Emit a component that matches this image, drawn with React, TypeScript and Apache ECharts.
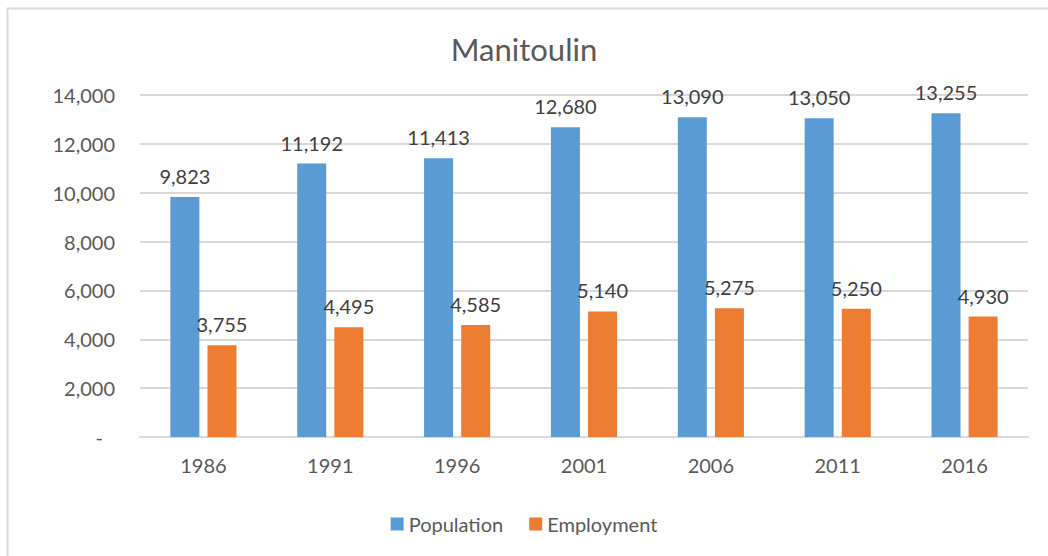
import React, { useEffect, useRef } from "react";
import * as echarts from "echarts";

const title = "Manitoulin";
const categories = ["1986", "1991", "1996", "2001", "2006", "2011", "2016"];
const population = [9823, 11192, 11413, 12680, 13090, 13050, 13255];
const employment = [3755, 4495, 4585, 5140, 5275, 5250, 4930];
const seriesNames = ["Population", "Employment"];

const FONT = "Lato";
const fmt = (v: number) => v.toLocaleString("en-US");

export default function App() {
  const ref = useRef<HTMLDivElement>(null);
  useEffect(() => {
    document.body.style.margin = "0";
    document.body.style.overflow = "hidden";
    const chart = echarts.init(ref.current!, undefined, { renderer: "svg" });
    const labelCommon = {
      show: true,
      position: "top" as const,
      distance: 11,
      color: "#404040",
      fontFamily: FONT,
      fontSize: 20,
      formatter: (p: any) => fmt(p.value),
    };
    chart.setOption({
      animation: false,
      backgroundColor: "#fff",
      textStyle: { fontFamily: FONT },
      graphic: [
        {
          type: "rect",
          shape: { x: 7.5, y: 8.5, width: 1060, height: 560 },
          style: { fill: "none", stroke: "#d9d9d9", lineWidth: 2 },
          silent: true,
        },
      ],
      title: {
        text: title,
        left: "center",
        top: 28,
        textStyle: { fontFamily: FONT, fontSize: 31, fontWeight: "normal", color: "#595959" },
      },
      legend: {
        data: seriesNames,
        bottom: 17,
        left: "center",
        icon: "rect",
        itemWidth: 13,
        itemHeight: 13,
        itemGap: 26,
        textStyle: { fontFamily: FONT, fontSize: 20, color: "#595959", letterSpacing: 0.8 } as any,
      },
      grid: { left: 140, right: 20, top: 95, bottom: 119, containLabel: false },
      xAxis: {
        type: "category",
        data: categories,
        axisTick: { show: false },
        axisLine: { lineStyle: { color: "#d9d9d9", width: 2 } },
        axisLabel: { color: "#595959", fontFamily: FONT, fontSize: 20, margin: 18 },
      },
      yAxis: {
        type: "value",
        min: 0,
        max: 14000,
        interval: 2000,
        axisLine: { show: false },
        axisTick: { show: false },
        splitLine: { lineStyle: { color: "#d9d9d9", width: 2 } },
        axisLabel: {
          color: "#595959",
          fontFamily: FONT,
          fontSize: 20,
          margin: 25,
          formatter: (v: number) => (v === 0 ? "{d|-}" : fmt(v)),
          rich: { d: { color: "#595959", fontFamily: FONT, fontSize: 20, padding: [0, 12, 0, 0] } },
        },
      },
      series: [
        {
          name: seriesNames[0],
          type: "bar",
          data: population,
          barWidth: 29,
          barGap: "28%",
          itemStyle: { color: "#5B9BD5" },
          label: labelCommon,
        },
        {
          name: seriesNames[1],
          type: "bar",
          data: employment,
          barWidth: 29,
          itemStyle: { color: "#ED7D31" },
          label: labelCommon,
        },
      ],
    });
    return () => chart.dispose();
  }, []);
  return <div ref={ref} style={{ position: "fixed", left: 0, top: 0, width: 1048, height: 556 }} />;
}
